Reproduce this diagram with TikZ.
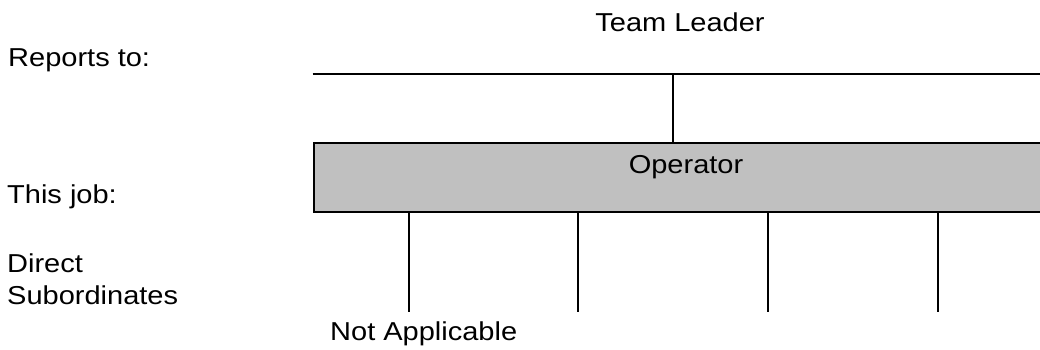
\documentclass[tikz,border=0pt]{standalone}
\usepackage{fontspec}
\setmainfont[FakeStretch=1.12]{Liberation Sans}
\begin{document}
\begin{tikzpicture}[x=1pt,y=-1pt,
  lbl/.style={inner sep=0pt,anchor=base west,font=\fontsize{25.9}{30}\selectfont},
  ctr/.style={inner sep=0pt,anchor=base,font=\fontsize{25.9}{30}\selectfont},
  conn/.style={line width=2pt,black},
  jobbox/.style={draw=black,line width=2pt,fill=boxgray,inner sep=0pt,anchor=north west,minimum width=760pt,minimum height=69pt}]
\definecolor{boxgray}{HTML}{C0C0C0}
\useasboundingbox (0,0) rectangle (1040,349);
\clip (0,0) rectangle (1040,349);
% left labels
\node[lbl] (rep) at (8,66.7) {Reports to:};
\node[lbl] (job) at (7,203) {This job:};
\node[lbl] (dir) at (7,272.7) {Direct};
\node[lbl] (sub) at (7,304) {Subordinates};
% top
\node[ctr] (tl) at (680,31.7) {Team Leader};
\coordinate (hl) at (312.7,74);
\coordinate (hr) at (1045,74);
\coordinate (hm) at (672.7,74);
\draw[conn] (hl) -- (hr);
% job box
\node[jobbox] (opbox) at (312.7,141.7) {};
\node[ctr] (op) at (686,173) {Operator};
\draw[conn] (hm) -- (hm |- opbox.north);
% subordinates
\coordinate (s1) at (408.5,311.7);
\coordinate (s2) at (577.5,311.7);
\coordinate (s3) at (768,311.7);
\coordinate (s4) at (938,311.7);
\foreach \s in {s1,s2,s3,s4}
  \draw[conn] (\s |- opbox.south) -- (\s);
\node[lbl] (na) at (330,340) {Not Applicable};
\end{tikzpicture}
\end{document}
